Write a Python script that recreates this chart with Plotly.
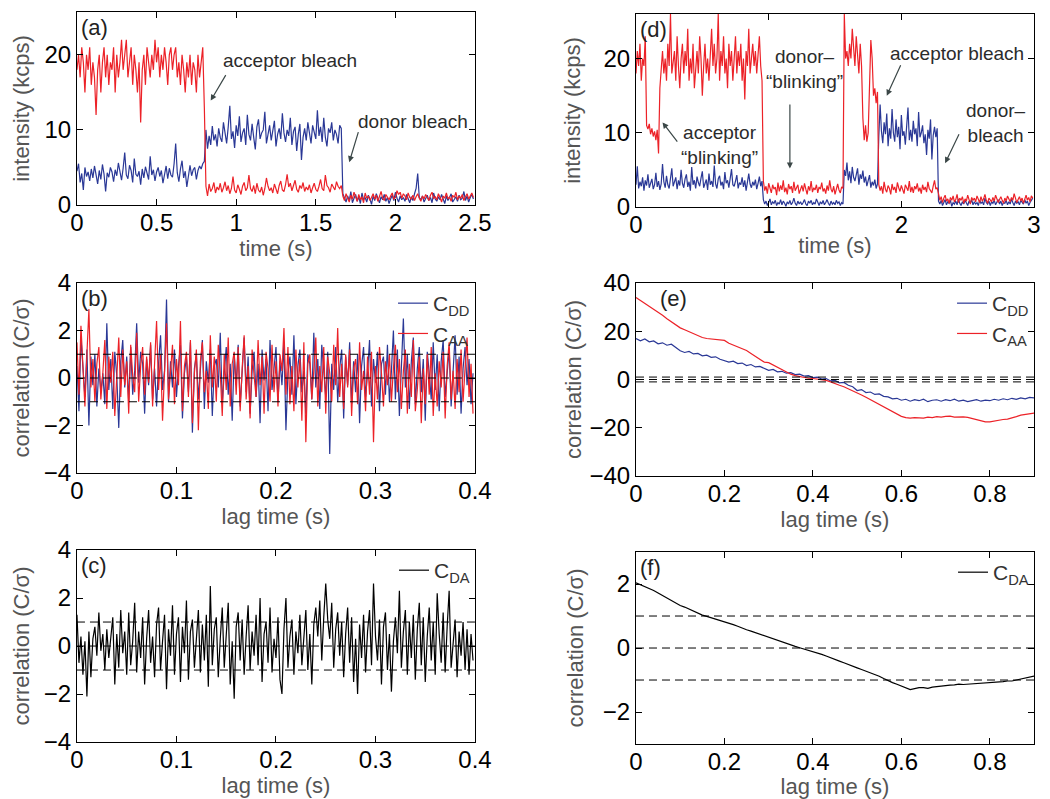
import numpy as np
import plotly.graph_objects as go

BLUE = "#2a3896"
RED = "#ec2228"
ARROW = "#3b4747"

# ---- (a) single-molecule trace, 10 ms bins ----
dt_trace = 0.01
red_a = [18, 20, 17, 21, 19, 15, 20, 18, 21, 16,
         19, 17, 12, 18, 20, 15, 19, 21, 17, 20,
         16, 19, 18, 21, 15, 20, 17, 19, 22, 18,
         20, 22, 17, 19, 21, 16, 20, 18, 15, 19,
         11, 18, 20, 16, 21, 19, 17, 20, 18, 22,
         19, 21, 17, 20, 18, 21, 19, 16, 20, 21,
         18, 20, 21, 17, 19, 16, 20, 18, 15, 19,
         17, 20, 16, 19, 18, 15, 20, 17, 19, 21,
         13,
         2.5, 1.2, 2.8, 1.8, 2.2, 3.0, 1.6, 2.4, 2.0, 2.9,
         1.7, 2.3, 3.1, 1.9, 2.6, 1.5, 2.2, 3.8, 2.0, 1.6,
         2.7, 2.1, 1.4, 2.5, 3.0, 1.9, 2.3, 4.0, 2.2, 1.8,
         2.6, 1.5, 2.9, 2.0, 1.7, 2.4, 1.3, 2.2, 3.6, 2.5,
         1.9, 2.3, 1.6, 2.8, 2.1, 1.5, 2.6, 3.2, 2.0, 1.8,
         2.7, 4.1, 2.4, 2.9, 1.9, 2.5, 3.3, 2.1, 1.7, 2.6,
         2.2, 3.0, 1.8, 2.4, 2.0, 2.7, 1.6, 2.3, 2.9, 2.1,
         1.8, 2.5, 3.4, 2.2, 1.9, 4.0, 2.6, 2.3, 1.7, 2.8,
         2.4, 2.0, 3.1, 2.5, 2.2, 2.6,
         1.2, 0.6, 1.5, 0.9, 0.4, 1.3, 0.8, 1.7, 1.0, 0.5,
         1.4, 0.7, 1.1, 0.3, 1.6, 0.9, 1.2, 0.6, 1.0, 1.5,
         0.8, 1.3, 0.5, 1.1, 1.8, 0.9, 0.6, 1.4, 1.0, 0.7,
         1.2, 1.6, 0.8, 1.0, 1.9, 1.4, 1.7, 0.9, 1.5, 1.2,
         0.7, 1.6, 1.0, 0.8, 1.3, 0.6, 1.1, 1.5, 0.9, 0.5,
         1.2, 0.8, 1.4, 1.0, 0.6, 1.3, 1.7, 0.9, 1.1, 0.7,
         1.5, 1.0, 0.4, 1.2, 0.9, 1.6, 0.8, 1.1, 0.5, 1.3,
         1.0, 1.7, 0.7, 1.2, 0.9, 1.4, 0.6, 1.1, 1.5, 0.8,
         1.2, 1.6, 1.0]
blue_a = [4.5, 5.5, 3.0, 4.2, 2.0, 5.0, 3.8, 4.4, 3.2, 4.8,
          3.6, 5.2, 4.0, 2.8, 4.6, 3.4, 5.4, 4.1, 1.8, 4.3,
          3.7, 5.0, 4.4, 3.1, 4.7, 3.9, 5.6, 4.2, 3.3, 4.9,
          7.0, 4.0, 3.5, 5.3, 4.6, 3.0, 6.2, 4.1, 3.8, 4.5,
          2.7, 4.8, 3.6, 5.1, 4.2, 3.4, 6.5, 4.0, 4.7, 3.2,
          4.4, 5.0, 3.8, 4.6, 2.9, 4.3, 5.2, 3.5, 4.9, 4.0,
          3.7, 5.5, 8.2, 4.3, 3.1, 4.8, 5.9, 3.6, 4.5, 2.4,
          4.1, 5.3, 3.9, 4.7, 5.0, 3.4, 4.6, 5.2, 4.8, 5.5,
          5.8,
          10.0, 7.5, 9.2, 8.0, 10.5, 8.6, 9.4, 7.8, 10.2, 9.0,
          8.4, 11.0, 9.6, 8.2, 10.4, 13.2, 8.8, 9.8, 7.6, 10.6,
          9.2, 11.8, 8.4, 9.6, 10.2, 8.0, 12.0, 9.4, 8.6, 10.8,
          9.0, 7.4, 10.4, 11.4, 8.8, 9.6, 10.0, 12.4, 8.2, 9.2,
          10.6, 8.6, 9.8, 11.2, 7.8, 9.4, 10.2, 8.8, 12.2, 9.6,
          8.4, 10.0, 9.2, 11.6, 8.0, 9.8, 10.4, 7.2, 9.4, 10.8,
          6.0, 9.0, 10.2, 8.6, 11.0, 9.4, 8.2, 10.6, 9.8, 8.8,
          12.6, 9.2, 10.4, 8.4, 11.6, 9.0, 7.8, 10.2, 9.6, 11.0,
          8.6, 10.0, 9.4, 8.2, 10.6, 10.2,
          1.5,
          0.8, 0.4, 1.2, 0.6, 1.8, 0.3, 0.9, 1.4, 0.5, 1.1,
          0.2, 1.6, 0.7, 1.0, 0.4, 1.3, 0.8, 0.1, 1.2, 0.6,
          1.5, 0.9, 0.3, 1.1, 0.7, 1.4, 0.5, 1.0, 0.2, 0.8,
          1.3, 0.6, 1.7, 0.9, 0.4, 1.2, 0.7, 1.0, 0.5, 1.4,
          0.8, 0.3, 1.1, 0.6, 1.5, 2.2, 4.2, 1.0, 0.7, 1.2,
          0.4, 0.9, 1.3, 0.6, 1.0, 0.3, 1.6, 0.8, 0.5, 1.1,
          0.7, 1.4, 0.9, 0.2, 1.2, 0.6, 1.0, 1.5, 0.4, 0.8,
          1.1, 0.5, 1.3, 0.7, 0.9, 1.8, 0.6, 1.2, 0.4, 1.0,
          1.4, 0.8]

# ---- (d) trace with blinking ----
red_d = [18, 21, 19, 22, 17, 20, 19, 23,
         11, 10.5, 11.2, 9.8, 10.6, 9.5, 10.2, 9.0, 10.4, 7.2,
         16, 19, 21, 18, 20, 17, 22, 19, 26, 18,
         20, 21, 17, 23, 19, 16, 20, 22, 18, 21,
         19, 24, 17, 20, 18, 22, 16, 19, 21, 18,
         23, 20, 15, 19, 22, 18, 20, 17, 21, 24,
         19, 22, 18, 20, 26, 17, 21, 19, 23, 18,
         20, 16, 22, 19, 21, 17, 20, 23, 18, 21,
         19, 22, 17, 20, 14.5, 21, 19, 24, 18, 20,
         22, 19, 21, 18, 20, 23, 19, 17,
         3.5, 2.2, 2.8, 1.8, 3.2, 2.5, 1.9, 3.0, 2.4, 2.7,
         1.6, 3.3, 2.1, 2.9, 2.3, 3.6, 2.0, 2.6, 1.7, 3.1,
         2.4, 2.8, 1.9, 3.4, 2.2, 2.6, 3.0, 1.8, 2.5, 2.9,
         2.1, 3.2, 2.4, 1.7, 2.8, 2.2, 3.5, 2.0, 2.6, 2.3,
         3.0, 1.9, 2.7, 2.4, 3.3, 2.1, 2.5, 1.8, 2.9, 2.2,
         3.6, 2.4, 2.0, 2.8, 1.7, 2.6, 3.1, 2.3, 1.9, 2.7,
         2.5,
         26, 20, 21, 19, 22, 20, 24, 21, 19, 23, 20, 18, 22, 19,
         12, 9, 11, 8.8, 10,
         18, 22.5, 20, 15,
         16, 14, 15.5,
         3.0, 2.2, 2.8, 1.8, 3.4, 2.4, 2.0, 2.9, 2.5, 1.7,
         3.1, 2.3, 2.7, 1.9, 3.3, 2.6, 2.1, 2.9, 2.4, 1.8,
         3.0, 2.5, 2.2, 3.5, 2.0, 2.7, 1.9, 2.8, 2.4, 3.2,
         2.1, 2.6, 1.8, 3.0, 2.3, 2.7, 2.0, 3.4, 2.5, 2.2,
         1.9, 2.8, 3.6, 2.4, 2.6,
         1.8, 0.9, 1.4, 0.6, 1.2, 1.6, 0.8, 1.1, 0.5, 1.3,
         0.9, 1.5, 0.7, 1.0, 1.7, 0.6, 1.2, 0.9, 1.4, 0.5,
         1.1, 0.8, 1.6, 1.0, 0.4, 1.3, 0.9, 1.2, 0.7, 1.5,
         1.0, 0.6, 1.4, 0.8, 1.1, 1.7, 0.9, 0.5, 1.2, 1.0,
         0.7, 1.3, 0.8, 1.6, 1.1, 0.6, 1.0, 1.4, 0.9, 0.5,
         1.2, 0.8, 1.5, 1.0, 0.7, 1.3, 0.9, 1.8, 1.1, 0.6,
         1.0, 1.4, 0.8, 1.2, 0.5, 1.1, 1.6, 0.9, 1.3, 0.7,
         1.5, 1.2]
blue_d = [3.0, 5.5, 2.5, 3.4, 2.8, 4.0, 2.2, 3.6, 2.9, 4.4,
          2.6, 3.2, 3.8, 2.4, 3.0, 4.6, 2.7, 3.5, 2.3, 3.1,
          5.8, 3.4, 2.6, 4.2, 3.0, 2.5, 3.7, 5.2, 2.8, 3.3,
          4.0, 2.4, 3.6, 2.9, 5.0, 3.2, 2.6, 3.8, 4.4, 2.7,
          3.4, 2.2, 5.4, 3.0, 3.6, 2.5, 4.1, 3.3, 2.8, 3.9,
          4.8, 2.6, 3.2, 3.7, 2.3, 4.5, 3.0, 3.5, 2.7, 5.6,
          3.1, 2.5, 3.8, 4.2, 2.9, 3.4, 2.4, 4.7, 3.2, 3.6,
          2.6, 3.9, 5.1, 3.0, 2.8, 3.5, 4.3, 2.5, 3.3, 3.0,
          4.0, 2.7, 3.6, 2.2, 3.8, 4.5, 3.1, 2.6, 3.4, 2.9,
          3.7, 2.4, 3.2, 4.1, 2.8, 3.5,
          1.0, 0.4, 0.8, 0.2, 0.6, 1.1, 0.3, 0.7, 0.5, 0.9,
          0.2, 0.6, 0.4, 1.0, 0.3, 0.8, 0.5, 0.1, 0.7, 0.4,
          0.9, 0.3, 0.6, 1.2, 0.5, 0.2, 0.8, 0.4, 0.7, 0.3,
          0.6, 1.0, 0.4, 0.2, 0.8, 0.5, 0.9, 0.3, 0.6, 0.4,
          1.1, 0.5, 0.2, 0.7, 0.4, 0.9, 0.3, 0.6, 1.0, 0.5,
          0.2, 0.8, 0.4, 0.6, 0.3, 0.9, 0.5, 0.7, 0.2, 0.6,
          0.4,
          5.0, 4.2, 6.0, 3.6, 4.8, 3.2, 5.4, 4.0, 3.5, 4.6,
          5.2, 3.0, 4.4, 3.8, 4.9, 3.3, 4.1, 2.8, 3.6, 4.3,
          2.6, 3.4, 2.9, 3.7, 2.5, 3.1,
          9.5, 13.8, 10.2, 8.6, 11.4, 9.8, 12.6, 8.2, 10.6, 9.2,
          13.2, 10.0, 8.8, 11.8, 9.4, 10.8, 7.8, 12.4, 9.6, 10.2,
          8.4, 11.2, 13.4, 9.0, 10.4, 8.8, 11.6, 9.8, 10.6, 8.2,
          12.8, 9.4, 10.0, 11.0, 8.6, 9.8, 7.0, 10.4, 9.2, 11.8,
          6.4, 9.6, 10.8, 9.4, 10.6,
          0.8, 0.4, 0.9, 0.2, 0.6, 1.0, 0.3, 0.7, 0.5, 0.9,
          0.1, 0.6, 0.4, 0.8, 0.3, 1.1, 0.5, 0.2, 0.7, 0.4,
          0.9, 0.6, 0.2, 0.8, 0.5, 1.0, 0.3, 0.7, 0.4, 0.6,
          0.2, 0.9, 0.5, 0.7, 0.3, 1.2, 0.6, 0.4, 0.8, 0.2,
          0.7, 0.5, 0.9, 0.3, 0.6, 1.0, 0.4, 0.8, 0.2, 0.6,
          0.5, 0.9, 0.3, 0.7, 0.4, 1.1, 0.6, 0.2, 0.8, 0.5,
          0.7, 0.3, 0.9, 0.6, 0.4, 1.0, 0.5, 0.8, 0.2, 0.6,
          0.9, 1.2]

# ---- (b), (c) correlations of trace (a), 2 ms lag steps ----
dt_lag_short = 0.002
cdd_b = [0.5, -1.4, 1.7, 0.2, -0.8, 1.2, -2.0, 0.9, -0.3, 1.0,
         -1.2, 0.4, -0.6, 0.2, -1.1, 2.3, -0.5, 0.8, -1.3, 1.1,
         0.1, -2.1, 0.7, 1.6, -0.4, 0.9, -1.0, 1.3, -0.7, 0.3,
         2.3, -0.2, 1.1, 0.6, -1.5, 0.8, -0.3, 1.4, -0.9, 0.4,
         -1.2, 0.6, 1.8, -0.5, 0.3, 3.3, -1.0, 0.7, -0.4, 1.2,
         -0.8, 0.5, 1.4, -1.7, 0.2, 0.9, -0.6, 1.5, -2.3, 0.4,
         1.0, -0.9, 0.3, 1.6, -1.3, 0.7, -0.2, 1.2, -1.6, 0.5,
         0.8, -0.4, 1.9, -1.1, 0.2, 1.3, -0.7, 0.6, -1.8, 1.0,
         -0.3, 1.4, -1.2, 0.5, 1.7, -0.6, 0.9, -1.5, 0.3, 1.1,
         -0.8, 0.6, -1.9, 1.2, -0.1, 0.8, -1.4, 1.6, -0.5, 0.4,
         1.3, -1.0, 0.7, -0.3, 1.5, -2.2, 0.2, 0.9, -0.7, 1.8,
         -1.1, 0.5, 1.2, -0.6, 0.3, -1.5, 1.0, 0.6, -0.9, 1.9,
         -0.4, 0.8, -1.3, 1.4, 0.1, -0.8, 1.1, -3.2, 0.6, -0.5,
         1.3, -1.0, 0.4, 1.2, -1.7, 0.9, -0.3, 1.5, -1.1, 0.7,
         -0.6, 1.0, -1.9, 0.5, 1.3, -0.8, 0.2, 1.6, -1.2, 0.8,
         -0.2, 1.1, -1.4, 0.6, 0.9, -0.7, 1.4, -1.0, 0.3, 2.0,
         -0.9, 1.2, -1.6, 0.5, 2.5, -0.4, 1.0, -1.3, 0.7, 1.7,
         -1.1, 0.4, 1.3, -0.6, 0.8, -1.8, 1.1, 0.2, -0.9, 1.5,
         -0.5, 1.0, -1.4, 0.7, 1.6, -0.8, 0.3, 1.2, -1.2, 0.6,
         1.8, -0.7, 0.9, -1.5, 0.4, 1.3, -0.3, 0.8, -1.1, 0.2]
caa_b = [1.5, -0.7, 2.2, 0.4, -1.2, 1.0, 2.9, -0.4, 0.8, -1.0,
         0.6, 1.3, -0.9, 0.2, 1.6, -1.3, 0.9, -0.2, 1.1, -1.6,
         0.3, 1.7, -0.8, 1.2, -0.3, 0.7, -1.5, 1.4, 0.1, -0.6,
         1.9, -1.0, 0.5, 1.3, -0.7, 0.9, -0.2, 1.5, -1.2, 0.4,
         2.4, -0.5, 1.0, -1.8, 0.6, 2.3, -0.9, 0.3, 1.4, -1.1,
         0.8, -0.3, 2.4, -1.4, 0.5, 1.1, -0.8, 1.6, -1.9, 0.2,
         1.2, -2.2, 0.7, 1.5, -0.6, 0.3, -1.3, 1.8, -0.4, 0.9,
         -1.0, 1.4, 0.2, -1.6, 1.0, -0.5, 1.7, -1.2, 0.6, 1.1,
         -0.7, 1.3, -1.4, 0.4, 1.8, -0.9, 0.5, -1.7, 1.2, 0.1,
         -0.8, 1.6, -0.3, 0.9, -1.5, 1.1, 0.4, -1.0, 1.4, -0.6,
         0.7, -1.2, 1.0, 0.3, 2.1, -0.7, 1.3, -1.1, 0.5, -1.4,
         1.2, -0.4, 0.8, -1.8, 1.5, -2.7, 0.6, 1.0, -0.9, 0.3,
         1.7, -1.2, 0.5, -0.6, 1.3, -1.5, 0.9, 0.2, -1.0, 1.4,
         -0.3, 2.1, -0.8, 0.6, -1.3, 1.0, -0.4, 1.2, -1.6, 0.4,
         0.8, -1.1, 1.5, -0.5, 0.3, -1.4, 0.9, -0.7, 1.1, -2.7,
         0.5, -0.9, 1.3, 0.2, -1.2, 0.7, -0.3, 1.0, -1.0, 0.4,
         1.4, -0.6, 0.8, -1.3, 0.3, 1.2, -1.5, 0.6, -0.8, 1.6,
         -1.4, -0.5, 0.9, -1.9, 0.4, -1.1, 1.0, -0.7, 1.3, -1.6,
         0.2, -1.2, 0.7, -0.4, 1.1, -1.7, 0.5, 1.5, -0.9, 0.3,
         -1.3, 0.8, -0.6, 1.2, -1.0, 0.4, 1.7, -0.8, 0.6, -1.5]
cda_c = [1.3, -0.7, 0.4, -1.2, 0.2, -2.1, 0.6, -1.3, 0.3, 0.8,
         -0.4, 1.4, -0.2, 0.5, -1.0, 0.7, -0.5, 0.3, 1.2, -1.6,
         0.5, -0.9, 1.5, -0.3, 0.6, -1.2, 1.4, -0.8, 0.2, 1.8,
         -1.1, 0.6, -0.5, 1.2, -1.6, 0.3, 1.5, -0.7, 0.4, -1.3,
         0.9, 1.6, -1.0, 0.2, 1.3, -1.8, 0.7, -0.4, 1.7, -1.2,
         0.5, 1.2, -1.5, 0.8, -0.3, 1.9, -1.4, 0.6, 1.1, -0.9,
         0.4, 1.5, -1.1, 0.9, -0.6, 1.3, -1.7, 2.5, -0.8, 0.7,
         1.2, -1.3, 0.3, 1.6, -0.9, 0.5, 1.8, -1.6, 0.2, -2.2,
         0.8, 1.4, -0.6, 1.1, -1.2, 0.4, 1.7, -1.0, 0.6, -0.4,
         1.3, -0.8, 2.0, -1.5, 0.5, 1.0, -0.7, 1.6, -1.1, 0.3,
         -0.5, 1.2, -1.4, -2.0, 0.7, 2.0, -0.9, 0.4, 1.1, -1.2,
         0.6, -0.3, 1.3, -0.8, 0.2, 1.5, -1.0, 0.5, -1.6, 0.9,
         1.6, 0.4, 1.9, -0.6, 1.2, 2.6, 1.1, 0.3, 1.8, -0.9,
         0.7, 1.4, -0.4, 1.0, -1.3, 0.5, 1.6, -0.7, 1.2, -1.5,
         0.3, -2.0, 0.9, -0.5, 1.3, -1.1, 0.6, 1.5, -0.8, 2.6,
         0.4, -0.6, 1.1, -1.6, 0.8, 1.4, -1.0, 0.5, -1.9, 0.2,
         1.2, -0.3, 2.3, -0.9, 0.6, 1.5, -1.2, 1.0, -0.5, 1.3,
         -1.4, 0.7, 1.8, -0.8, 1.2, -1.5, 0.4, 1.6, -0.6, 1.0,
         -1.2, 2.2, 0.5, -0.7, 1.4, -1.1, 0.8, 2.3, -0.9, 0.3,
         1.1, -1.3, 0.6, -0.4, 1.0, -1.0, 0.7, -1.2, 0.5, -0.6]

# ---- (e), (f) correlations of trace (d), 10 ms lag steps ----
dt_lag_long = 0.01
cdd_e = [17.0, 16.0, 16.8, 15.6, 16.0, 14.8, 15.2, 14.2, 14.6, 13.4,
         11.9, 11.2, 11.6, 10.6, 10.8, 9.8, 10.1, 9.2, 9.4, 8.4,
         7.8, 7.2, 7.6, 6.6, 6.8, 5.8, 6.2, 5.2, 5.4, 4.6,
         3.8, 4.2, 3.2, 3.4, 2.6, 2.8, 2.0, 2.2, 1.4, 1.6,
         0.8, 1.0, 0.2, 0.4, -0.6, -0.4, -1.4, -1.2, -2.4, -3.0,
         -4.6, -4.2, -5.4, -5.2, -6.2, -6.0, -7.0, -7.2, -8.0, -7.8,
         -8.6, -8.2, -9.0, -8.4, -8.8, -8.2, -9.2, -8.6, -8.4, -9.0,
         -8.4, -8.8, -8.2, -9.0, -8.6, -9.2, -8.8, -8.4, -9.0, -8.6,
         -8.8, -8.2, -8.6, -8.0, -8.4, -7.8, -8.2, -7.6, -8.0, -7.4,
         -7.6]
caa_e = [34.0, 32.8, 31.6, 30.4, 29.0, 27.8, 26.6, 25.2, 24.0, 22.8,
         21.4, 20.6, 19.8, 19.0, 18.2, 17.4, 17.0, 16.8, 16.8, 16.6,
         16.2, 15.0, 14.2, 13.6, 12.8, 12.0, 10.8, 9.6, 8.4, 7.2,
         7.0, 6.0, 5.0, 4.0, 3.0, 2.2, 1.6, 1.2, 0.8, 0.5,
         0.4, 0.2, 0.0, -0.4, -1.0, -1.8, -2.4, -3.0, -3.8, -4.6,
         -5.5, -6.4, -7.4, -8.4, -9.4, -10.4, -11.4, -12.4, -13.4, -14.4,
         -15.3, -15.8, -16.0, -15.8, -16.0, -16.0, -15.6, -15.8, -15.4, -15.6,
         -15.3, -15.2, -15.6, -15.4, -15.5, -15.7, -16.2, -16.8, -17.2, -17.6,
         -17.6, -17.2, -17.0, -16.6, -16.4, -16.0, -15.4, -14.8, -14.4, -14.0,
         -13.9]
cda_f = [2.04, 1.98, 1.93, 1.87, 1.80, 1.72, 1.64, 1.56, 1.48, 1.40,
         1.33, 1.28, 1.22, 1.14, 1.08, 1.03, 0.99, 0.95, 0.90, 0.86,
         0.82, 0.78, 0.73, 0.68, 0.62, 0.57, 0.53, 0.48, 0.43, 0.38,
         0.34, 0.30, 0.25, 0.20, 0.15, 0.10, 0.05, 0.01, -0.03, -0.06,
         -0.10, -0.15, -0.20, -0.25, -0.31, -0.36, -0.41, -0.46, -0.52, -0.57,
         -0.62, -0.67, -0.72, -0.78, -0.83, -0.88, -0.95, -1.02, -1.08, -1.13,
         -1.19, -1.25, -1.30, -1.27, -1.24, -1.24, -1.26, -1.22, -1.20, -1.18,
         -1.17, -1.16, -1.15, -1.13, -1.14, -1.13, -1.12, -1.11, -1.12, -1.10,
         -1.08, -1.09, -1.06, -1.05, -1.03, -1.03, -1.00, -0.97, -0.93, -0.90,
         -0.88]

sigma_levels = [-1, 0, 1]

t_a = np.arange(len(red_a)) * dt_trace
t_d = np.arange(len(red_d)) * dt_trace
lag_b = np.arange(len(cdd_b)) * dt_lag_short
lag_e = np.arange(len(cdd_e)) * dt_lag_long

fig = go.Figure()


def line(x, y, color, xa, ya, name=None, legend=None):
    fig.add_trace(go.Scatter(x=x, y=y, mode="lines", name=name,
                             line=dict(color=color, width=1.2),
                             xaxis=xa, yaxis=ya,
                             showlegend=legend is not None,
                             legend=legend or "legend"))


line(t_a, blue_a, BLUE, "x", "y")
line(t_a, red_a, RED, "x", "y")
line(t_d, blue_d, BLUE, "x4", "y4")
line(t_d, red_d, RED, "x4", "y4")
line(lag_b, cdd_b, BLUE, "x2", "y2", "C<sub>DD</sub>", "legend")
line(lag_b, caa_b, RED, "x2", "y2", "C<sub>AA</sub>", "legend")
line(lag_b, cda_c, "black", "x3", "y3", "C<sub>DA</sub>", "legend3")
line(lag_e, cdd_e, BLUE, "x5", "y5", "C<sub>DD</sub>", "legend2")
line(lag_e, caa_e, RED, "x5", "y5", "C<sub>AA</sub>", "legend2")
line(lag_e, cda_f, "black", "x6", "y6", "C<sub>DA</sub>", "legend4")

# dashed +-1 sigma and zero lines
for ax in ["2", "3", "5", "6"]:
    for v in sigma_levels:
        fig.add_shape(type="line", xref="x%s domain" % ax, yref="y" + ax,
                      x0=0, x1=1, y0=v, y1=v, layer="above",
                      line=dict(color="black", width=1, dash="8px,5px"))

LBL = "Liberation Sans, Arial, sans-serif"


def axis(domain, anchor, rng, dtick, title, standoff, labelshift=0):
    return dict(domain=domain, anchor=anchor, range=rng, dtick=dtick,
                showline=True, linecolor="black", linewidth=1, mirror="ticks",
                ticks="inside", ticklen=6, tickcolor="black",
                showgrid=False, zeroline=False, automargin=False,
                ticklabelstandoff=labelshift,
                tickfont=dict(family=LBL, size=24, color="black"),
                title=dict(text=title, standoff=standoff,
                           font=dict(family=LBL, size=22, color="#555555")))


xl = [0.0733, 0.4524]
xr = [0.6057, 0.9848]
fig.update_layout(
    xaxis=axis(xl, "y", [0, 2.5], 0.5, "time (s)", 0, -4),
    yaxis=axis([0.7434, 0.985], "x", [0, 25.7], 10, "intensity (kcps)", 8),
    xaxis2=axis(xl, "y2", [0, 0.4], 0.1, "lag time (s)", 0, -4),
    yaxis2=axis([0.408, 0.6458], "x2", [-4, 4], 2, "correlation (C/σ)", 8),
    xaxis3=axis(xl, "y3", [0, 0.4], 0.1, "lag time (s)", 0, -4),
    yaxis3=axis([0.0713, 0.3116], "x3", [-4, 4], 2, "correlation (C/σ)", 8),
    xaxis4=axis(xr, "y4", [0, 3], 1, "time (s)", 0, -4),
    yaxis4=axis([0.7409, 0.9825], "x4", [0, 26], 10, "intensity (kcps)", 16),
    xaxis5=axis(xr, "y5", [0, 0.9], 0.2, "lag time (s)", 0, -4),
    yaxis5=axis([0.4043, 0.6458], "x5", [-40, 40], 20, "correlation (C/σ)", 1),
    xaxis6=axis(xr, "y6", [0, 0.9], 0.2, "lag time (s)", 0, -4),
    yaxis6=axis([0.0688, 0.3091], "x6", [-3, 3], 2, "correlation (C/σ)", 13),
)

leg = dict(xanchor="right", yanchor="top", bgcolor="rgba(0,0,0,0)", borderwidth=0,
           font=dict(family=LBL, size=21, color="#333333"), tracegroupgap=0,
           itemwidth=30)
fig.update_layout(
    legend=dict(leg, x=0.4524, y=0.6458),
    legend2=dict(leg, x=0.9848, y=0.6458),
    legend3=dict(leg, x=0.4524, y=0.3116),
    legend4=dict(leg, x=0.9848, y=0.3091),
)

# panel labels
for ax, lab in zip(["", "2", "3", "4", "5", "6"], ["(a)", "(b)", "(c)", "(d)", "(e)", "(f)"]):
    pos = 0.055 if lab == "(e)" else 0.005
    fig.add_annotation(text=lab, xref="x%s domain" % ax, yref="y%s domain" % ax,
                       x=pos, y=0.995, xanchor="left", yanchor="top", showarrow=False,
                       font=dict(family=LBL, size=22, color="#222222"))

# text labels and arrows (text centre, arrow tail, arrow head) in data units
notes_a = [("acceptor bleach", 1.34, 19.3, 0.94, 17.5, 0.84, 13.9),
           ("donor bleach", 2.11, 11.1, 1.77, 9.9, 1.71, 5.7)]
notes_d = [("acceptor<br>“blinking”", 0.63, 8.4, 0.32, 8.6, 0.2, 11.4),
           ("donor–<br>“blinking”", 1.27, 18.6, 1.16, 14.0, 1.16, 5.2),
           ("acceptor bleach", 2.42, 20.7, 2.0, 19.3, 1.89, 15.0),
           ("donor–<br>bleach", 2.71, 11.3, 2.44, 10.0, 2.33, 5.9)]
for ax, notes in [("", notes_a), ("4", notes_d)]:
    for txt, tx, ty, x0, y0, x1, y1 in notes:
        fig.add_annotation(text=txt, x=tx, y=ty, xref="x" + ax, yref="y" + ax,
                           showarrow=False,
                           font=dict(family=LBL, size=19, color="#2b2b2b"))
        fig.add_annotation(text="", x=x1, y=y1, ax=x0, ay=y0,
                           xref="x" + ax, yref="y" + ax,
                           axref="x" + ax, ayref="y" + ax,
                           showarrow=True, arrowhead=2, arrowsize=1,
                           arrowwidth=1.2, arrowcolor=ARROW, standoff=0)

fig.update_layout(width=1050, height=799, margin=dict(l=0, r=0, t=0, b=0),
                  plot_bgcolor="white", paper_bgcolor="white",
                  template="none")

# page body margin would shift the 1050x799 figure out of the window
fig.write_html("out.html", config={"displayModeBar": False},
               post_script="document.body.style.margin='0';")
